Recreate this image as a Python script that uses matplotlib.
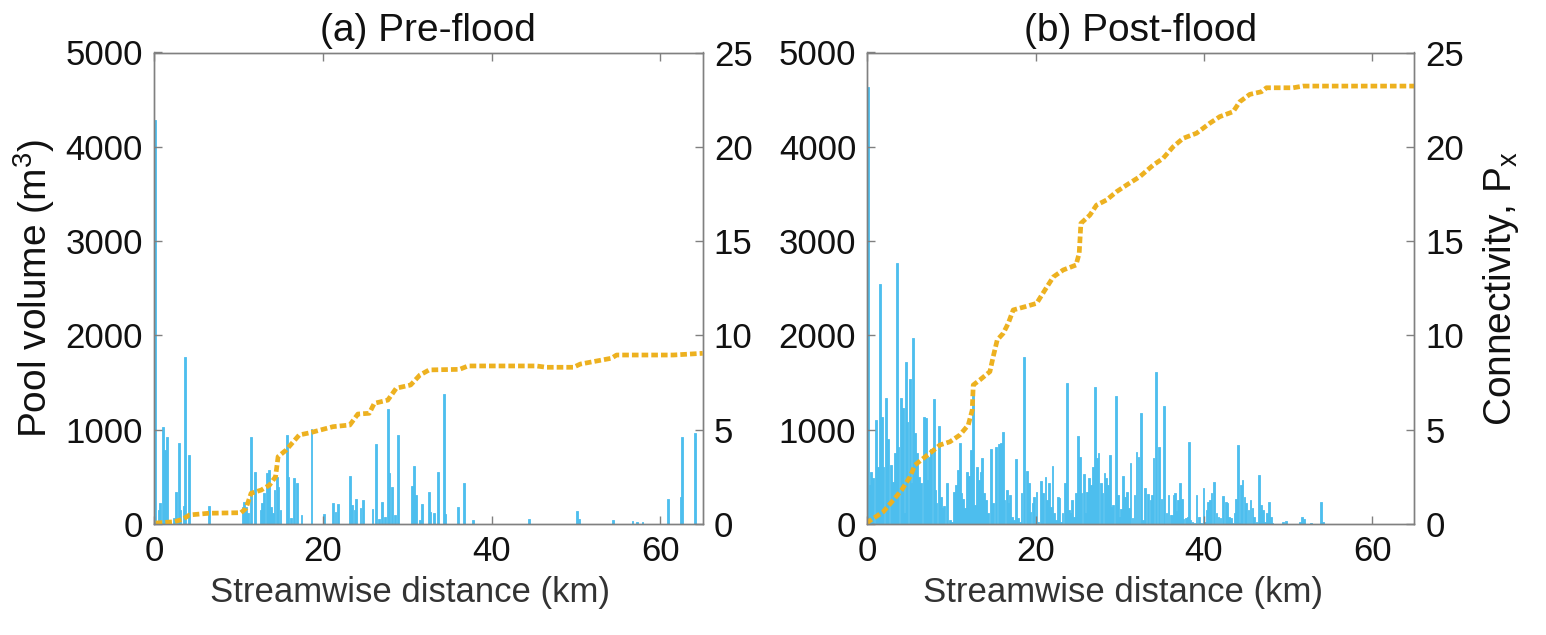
import matplotlib.pyplot as plt

plt.rcParams['font.family'] = ['Liberation Sans', 'DejaVu Sans']

# (a) Pre-flood: pool volume bars (km, m3)
pre_km = [0.12, 0.55, 0.75, 1.11, 1.34, 1.58, 2.33, 2.61, 2.92, 3.12, 3.52, 3.72,
          4.19, 6.56, 10.51, 10.71, 10.91, 11.11, 11.50, 11.98, 12.61, 12.81, 13.08,
          13.36, 13.60, 13.87, 14.07, 14.27, 14.55, 14.74, 14.98, 15.73, 15.93, 16.25,
          16.60, 16.96, 17.47, 18.66, 20.16, 21.23, 21.50, 21.82, 23.24, 23.44, 23.75,
          23.95, 24.47, 24.78, 25.89, 26.32, 26.68, 27.04, 27.39, 27.75, 27.87, 28.22,
          28.50, 28.89, 30.59, 30.83, 30.99, 31.54, 31.78, 32.57, 32.73, 33.21, 33.60,
          34.32, 34.51, 36.02, 36.73, 37.79, 44.40, 50.13, 50.36, 54.39, 56.69, 57.24,
          57.87, 60.92, 62.38, 62.54, 64.08]
pre_vol = [4283, 148, 219, 1032, 784, 926, 60, 343, 862, 148, 191, 1774,
           731, 191, 184, 237, 184, 113, 926, 555, 148, 219, 325,
           537, 572, 184, 113, 360, 502, 396, 148, 943, 502, 60,
           484, 431, 95, 1004, 106, 226, 131, 208, 509, 201, 148,
           261, 166, 254, 155, 848, 49, 237, 78, 1216, 544, 389,
           95, 943, 403, 615, 307, 42, 208, 343, 131, 113, 555,
           1378, 106, 184, 431, 42, 49, 138, 49, 42, 35, 18,
           25, 261, 283, 926, 961]

# (a) Pre-flood connectivity
pre_conn_km = [0.2, 2.4, 3.4, 4.2, 6.5, 10.3, 10.9, 11.5, 12.7, 13.7, 14.4, 14.7,
               15.65, 17.2, 18.5, 21.2, 23.2, 24.15, 25.5, 26.1, 27.7, 28.7, 30.4,
               31.5, 32.6, 36.2, 37.2, 45.3, 46.5, 49.7, 50.5, 54.2, 54.8, 61.5, 65.0]
pre_conn = [0.05, 0.12, 0.25, 0.48, 0.57, 0.6, 0.83, 1.63, 1.8, 2.07, 2.51, 3.57,
            3.92, 4.72, 4.84, 5.16, 5.25, 5.83, 5.87, 6.4, 6.57, 7.2, 7.37,
            7.9, 8.17, 8.2, 8.38, 8.38, 8.31, 8.31, 8.48, 8.79, 8.96, 8.96, 9.05]

# (b) Post-flood: pool volume bars (km, m3)
post_km = [0.1, 0.28, 0.44, 0.71, 0.99, 1.15, 1.31, 1.50, 1.70, 1.90, 2.18, 2.49,
           2.77, 3.09, 3.29, 3.52, 3.68, 3.96, 4.20, 4.43, 4.59, 4.75, 5.07, 5.27,
           5.46, 5.70, 5.94, 6.14, 6.41, 6.73, 6.97, 7.13, 7.36, 7.56, 7.88, 8.08,
           8.23, 8.47, 8.71, 8.87, 9.11, 9.50, 9.82, 10.06, 10.29, 10.53, 10.77, 10.97,
           11.16, 11.36, 11.56, 11.88, 12.11, 12.35, 12.59, 12.83, 13.06, 13.26, 13.46,
           13.66, 13.86, 14.09, 14.33, 14.73, 14.96, 15.32, 15.68,
           15.88, 16.16, 16.31, 16.55, 16.75, 16.95, 17.19, 17.46, 17.70, 17.94, 18.14,
           18.33, 18.65, 19.01, 19.24, 19.40, 19.64, 19.84, 20.11, 20.31, 20.63, 20.91,
           21.18, 21.38, 21.62, 21.78, 22.01, 22.17, 22.41, 22.65, 22.81, 23.04, 23.20,
           23.48, 23.76, 24.00, 24.19, 24.35, 24.55, 24.75, 25.02, 25.26, 25.46, 25.70,
           25.89, 26.13, 26.37, 26.61, 26.77, 27.08, 27.32, 27.48, 27.72, 27.95, 28.19,
           28.35, 28.59, 28.82, 28.98, 29.22, 29.54, 29.77, 30.01, 30.17, 30.41, 30.65,
           30.88, 31.08, 31.28, 31.52, 31.75, 31.99, 32.23,
           32.54, 32.78, 32.98, 33.37, 33.65, 33.81, 34.01, 34.29, 34.68, 34.96, 35.27,
           35.55, 35.79, 36.03, 36.19, 36.42, 36.58, 36.74, 36.94, 37.14, 37.37, 37.57,
           37.85, 38.05, 38.20, 38.36, 38.64, 38.88, 39.11, 39.43, 39.63, 39.95, 40.10,
           40.30, 40.50, 40.70, 40.90, 41.21, 41.49, 41.73, 41.97, 42.28, 42.60, 42.80,
           42.99, 43.19, 43.39, 43.63, 43.79, 44.02, 44.26, 44.42, 44.58, 44.82, 45.05,
           45.29, 45.53, 45.77, 46.00, 46.24, 46.56, 46.83, 47.03, 47.27, 47.47, 47.71,
           47.94, 48.14, 49.37, 49.72, 51.42, 51.62, 51.90, 52.69, 53.92, 54.20]
post_vol = [4630, 413, 555, 484, 1102, 572, 608, 2540, 1138, 608, 1339, 898,
            625, 449, 749, 2765, 820, 1339, 1226, 113, 1721, 1085, 1534, 438,
            1968, 961, 749, 502, 431, 1138, 1120, 466, 714, 792, 1322, 360,
            219, 1039, 290, 166, 191, 438, 42, 25, 343, 413, 572, 862,
            332, 261, 166, 555, 509, 784, 1385, 201, 608, 466, 555,
            703, 325, 254, 113, 792, 219, 820, 848,
            855, 979, 254, 360, 219, 307, 78, 42, 685, 60, 25,
            325, 1767, 565, 438, 131, 219, 290, 343, 25, 456, 325,
            495, 254, 438, 184, 615, 113, 42, 283, 272, 25, 113,
            431, 1491, 148, 113, 254, 78, 325, 933, 714, 325, 527,
            113, 343, 484, 413, 608, 1456, 696, 749, 431, 332, 537,
            484, 413, 731, 184, 201, 1360, 307, 78, 155, 509, 290,
            343, 166, 650, 60, 307, 767, 714,
            1173, 42, 385, 318, 254, 307, 696, 1608, 820, 265, 1254,
            113, 307, 95, 95, 307, 325, 141, 254, 431, 261, 49,
            60, 78, 873, 42, 25, 14, 307, 78, 14, 378, 25,
            148, 237, 254, 325, 449, 113, 78, 60, 297, 237, 219,
            78, 60, 14, 113, 265, 834, 14, 413, 466, 290, 219,
            148, 254, 166, 78, 25, 519, 201, 148, 25, 113, 237,
            78, 10, 25, 35, 25, 78, 49, 14, 230, 25]

# (b) Post-flood connectivity
post_conn_km = [0.0, 0.12, 1.9, 3.09, 4.08, 5.07, 5.67, 6.65, 7.65, 8.63, 9.82, 11.0,
                12.0, 12.47, 12.59, 13.38, 14.57, 14.96, 15.44, 16.15, 16.75, 17.34,
                18.73, 20.12, 21.1, 22.1, 23.28, 24.8, 25.18, 25.38, 26.45, 27.24,
                28.43, 29.62, 30.8, 32.39, 33.97, 35.15, 36.34, 37.53, 39.12, 40.7,
                41.89, 43.47, 44.26, 45.45, 46.84, 47.43, 50.6, 51.78, 65.0]
post_conn = [0.0, 0.12, 0.65, 1.27, 1.8, 2.5, 3.13, 3.48, 3.83, 4.19, 4.36, 4.72,
             5.25, 6.04, 7.37, 7.64, 8.08, 8.87, 9.76, 10.11, 10.64, 11.35,
             11.52, 11.7, 12.4, 13.1, 13.47, 13.73, 14.35, 15.94, 16.38, 16.91,
             17.18, 17.62, 17.97, 18.42, 19.03, 19.39, 20.0, 20.45, 20.72, 21.25,
             21.6, 21.86, 22.39, 22.78, 22.92, 23.13, 23.13, 23.22, 23.22]

titles = ['(a) Pre-flood', '(b) Post-flood']
bar_color = '#4DBEEE'
line_color = '#EDB120'
txt_color = '#111111'
spine_color = '#808080'
tick_fs = 25
label_fs = 28

fig = plt.figure(figsize=(15.46, 6.35), dpi=100)
ax_a = fig.add_axes([154 / 1546, 111 / 635, 548.7 / 1546, 471.5 / 635])
ax_b = fig.add_axes([867.3 / 1546, 111 / 635, 547 / 1546, 471.5 / 635])

panels = [(ax_a, pre_km, pre_vol, pre_conn_km, pre_conn),
          (ax_b, post_km, post_vol, post_conn_km, post_conn)]

for i, (ax, km, vol, ckm, conn) in enumerate(panels):
    ax.bar(km, vol, width=0.22, color=bar_color, edgecolor=bar_color, linewidth=0.6)
    ax.set_xlim(0, 65)
    ax.set_ylim(0, 5000)
    ax.set_xticks([0, 20, 40, 60])
    ax.set_yticks([0, 1000, 2000, 3000, 4000, 5000])
    ax.tick_params(direction='in', length=6, width=1, color=spine_color,
                   labelsize=tick_fs, labelcolor=txt_color, top=True, right=False, pad=8)
    ax.set_xlabel('Streamwise distance (km)', fontsize=tick_fs, color='#333333',
                  labelpad=6, x=0.467)
    ax.set_title(titles[i], fontsize=label_fs, color=txt_color, pad=8)

    axr = ax.twinx()
    axr.plot(ckm, conn, color=line_color, linewidth=3.4,
             linestyle=(0, (1.4, 0.65)), dash_capstyle='butt')
    axr.set_ylim(0, 25)
    axr.set_yticks([0, 5, 10, 15, 20, 25])
    axr.tick_params(direction='in', length=6, width=1, color=spine_color,
                    labelsize=tick_fs, labelcolor=txt_color, pad=8)
    for a in (ax, axr):
        for sp in a.spines.values():
            sp.set_color(spine_color)
            sp.set_linewidth(1.0)

    if i == 0:
        ax.set_ylabel('Pool volume (m$^\\mathregular{3}$)', fontsize=label_fs,
                      color=txt_color, labelpad=6)
    else:
        axr.set_ylabel('Connectivity, P$_\\mathregular{x}$', fontsize=label_fs,
                       color=txt_color, labelpad=12)

fig.savefig('out.png', dpi=100)
